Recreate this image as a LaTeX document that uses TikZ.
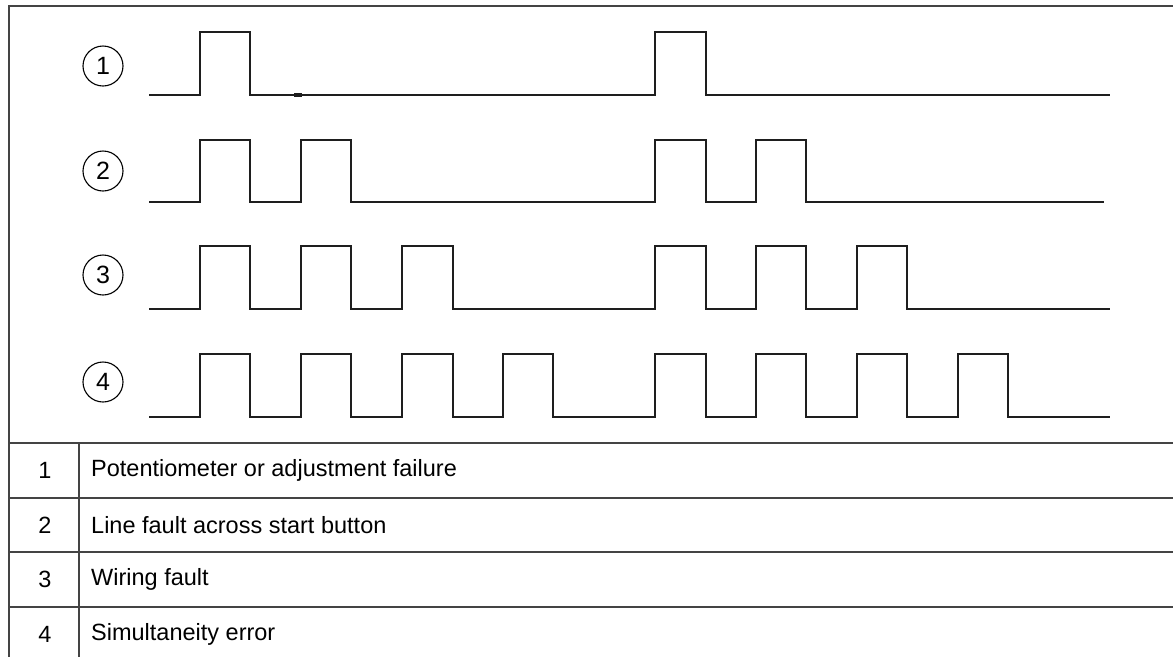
\documentclass[tikz,border=0pt]{standalone}
\usepackage{fontspec}
\setmainfont{Liberation Sans}
\definecolor{framec}{HTML}{444444}
\definecolor{wavec}{HTML}{1E1E1E}
\tikzset{
  frameline/.style={draw=framec, line width=1.6pt},
  wave/.style={draw=wavec, line width=2.2pt, line join=miter},
  circlabel/.style={circle, draw=black, line width=1.1pt, minimum size=40pt, inner sep=0pt, font=\fontsize{25}{27}\selectfont},
  numcell/.style={anchor=center, inner sep=0pt, font=\fontsize{23.5}{26}\selectfont},
  txtcell/.style={anchor=west, inner sep=0pt, font=\fontsize{23.5}{26}\selectfont}
}
\begin{document}
\begin{tikzpicture}[x=1pt, y=-1pt]
\useasboundingbox (0,0) rectangle (1173,657);
% frame
\coordinate (tl) at (9,6);
\coordinate (tr) at (1173,6);
\coordinate (bl) at (9,657);
\draw[frameline] (tr) -- (tl) -- (bl);
\foreach \y/\n in {443/a,498/b,552/c,607/d}{
  \coordinate (h\n l) at (9,\y);
  \coordinate (h\n r) at (1173,\y);
  \draw[frameline] (h\n l) -- (h\n r);
}
\coordinate (vt) at (79,443);
\coordinate (vb) at (79,657);
\draw[frameline] (vt) -- (vb);

% circled labels
\node[circlabel] (c1) at (103,66) {1};
\node[circlabel] (c2) at (103,171) {2};
\node[circlabel] (c3) at (103,275) {3};
\node[circlabel] (c4) at (103,382) {4};

% waveform 1
\draw[wave] (149,95) -- (200,95) -- (200,32) -- (250,32) -- (250,95) -- (655,95) -- (655,32) -- (706,32) -- (706,95) -- (1110,95);
\draw[draw=wavec, line width=3.5pt] (294,95) -- (302,95);
% waveform 2
\draw[wave] (149,202) -- (200,202) -- (200,140) -- (250,140) -- (250,202) -- (301,202) -- (301,140) -- (351,140) -- (351,202)
  -- (655,202) -- (655,140) -- (706,140) -- (706,202) -- (756,202) -- (756,140) -- (806,140) -- (806,202) -- (1104,202);
% waveform 3
\draw[wave] (149,309) -- (200,309) -- (200,246) -- (250,246) -- (250,309) -- (301,309) -- (301,246) -- (351,246) -- (351,309)
  -- (402,309) -- (402,246) -- (453,246) -- (453,309)
  -- (655,309) -- (655,246) -- (706,246) -- (706,309) -- (756,309) -- (756,246) -- (806,246) -- (806,309)
  -- (857,309) -- (857,246) -- (907,246) -- (907,309) -- (1110,309);
% waveform 4
\draw[wave] (149,417) -- (200,417) -- (200,354) -- (250,354) -- (250,417) -- (301,417) -- (301,354) -- (351,354) -- (351,417)
  -- (402,417) -- (402,354) -- (453,354) -- (453,417) -- (503,417) -- (503,354) -- (553,354) -- (553,417)
  -- (655,417) -- (655,354) -- (706,354) -- (706,417) -- (756,417) -- (756,354) -- (806,354) -- (806,417)
  -- (857,417) -- (857,354) -- (907,354) -- (907,417) -- (958,417) -- (958,354) -- (1008,354) -- (1008,417) -- (1110,417);

% table
\node[numcell] (n1) at (45,470) {1};
\node[numcell] (n2) at (45,525) {2};
\node[numcell] (n3) at (45,579.5) {3};
\node[numcell] (n4) at (45,634) {4};
\node[txtcell] (t1) at (91,470) {Potentiometer or adjustment failure};
\node[txtcell] (t2) at (91,525) {Line fault across start button};
\node[txtcell] (t3) at (91,579.5) {Wiring fault};
\node[txtcell] (t4) at (91,634) {Simultaneity error};
\end{tikzpicture}
\end{document}
